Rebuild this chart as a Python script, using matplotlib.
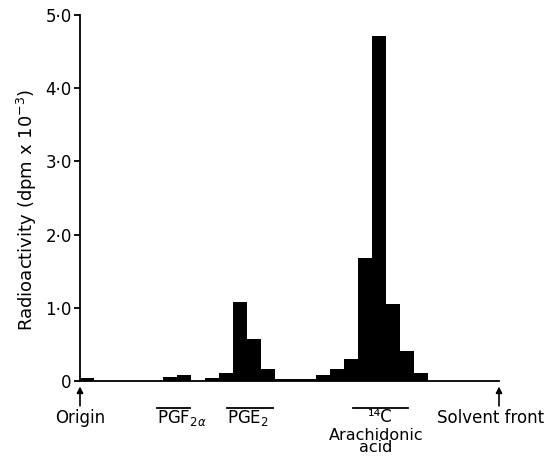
import numpy as np
import matplotlib
matplotlib.use("Agg")
import matplotlib.pyplot as plt
import matplotlib.transforms as mtransforms

plt.rcParams['font.family'] = ['DejaVu Sans']
plt.rcParams['mathtext.fontset'] = 'dejavusans'

# Radioactivity per fraction (dpm x 10^-3), fractions 0..29 from origin
fractions = list(range(30))
activity = [0.04, 0.0, 0.0, 0.0, 0.0, 0.0, 0.06, 0.085, 0.0, 0.04,
            0.11, 1.08, 0.58, 0.17, 0.03, 0.03, 0.03, 0.08, 0.17, 0.30,
            1.68, 4.71, 1.05, 0.41, 0.11, 0.0, 0.0, 0.0, 0.0, 0.0]
yticks = [0, 1, 2, 3, 4, 5]
ytick_labels = ['0', '1·0', '2·0', '3·0', '4·0', '5·0']

# band markers (fraction ranges) and labels
bands = [(5.54, 7.91), (10.58, 13.88), (19.64, 23.6)]
solvent_front = 30.14

fig = plt.figure(figsize=(5.45, 4.59), dpi=100)
ax = fig.add_axes([80/545, 1-381/459, (499-80)/545, 366/459])

ax.bar(fractions, activity, width=1.0, align='edge', color='black', edgecolor='none')
ax.set_xlim(0, solvent_front)
ax.set_ylim(0, 5)

for s in ['top', 'right']:
    ax.spines[s].set_visible(False)
for s in ['left', 'bottom']:
    ax.spines[s].set_linewidth(1.3)
ax.set_xticks([])
ax.set_yticks(yticks)
ax.set_yticklabels(ytick_labels, fontsize=12)
ax.tick_params(axis='y', direction='out', length=4, width=1.3, pad=2)

fig.text(27/545, 1-210/459, 'Radioactivity (dpm x 10$^{-3}$)', rotation=90,
         ha='center', va='center', fontsize=13)

trans = mtransforms.blended_transform_factory(ax.transData, ax.transAxes)

# arrows at origin and solvent front
for xpos in [0, solvent_front]:
    ax.annotate('', xy=(xpos, -0.015), xycoords=trans,
                xytext=(xpos, -0.068), textcoords=trans,
                arrowprops=dict(arrowstyle='-|>', color='black', lw=1.2,
                                mutation_scale=9, shrinkA=0, shrinkB=0),
                annotation_clip=False)

# overlines
for (a, b) in bands:
    ax.plot([a, b], [-0.074, -0.074], transform=trans, color='black',
            lw=1.3, clip_on=False)

ty = -0.101
ax.text(0, ty, 'Origin', transform=trans, ha='center', va='center', fontsize=12)
ax.text(29.5, ty, 'Solvent front', transform=trans, ha='center', va='center', fontsize=12)
ax.text(bands[0][0], ty, r'PGF$_{2\alpha}$', transform=trans, ha='left', va='center', fontsize=12)
ax.text(bands[1][0], ty, r'PGE$_2$', transform=trans, ha='left', va='center', fontsize=12)
ax.text(21.6, -0.099, '¹⁴C', transform=trans, ha='center', va='center', fontsize=12)
ax.text(21.3, -0.128, 'Arachidonic\nacid', transform=trans, ha='center', va='top',
        fontsize=11.5, linespacing=0.8)

fig.savefig('out.png', dpi=100)
